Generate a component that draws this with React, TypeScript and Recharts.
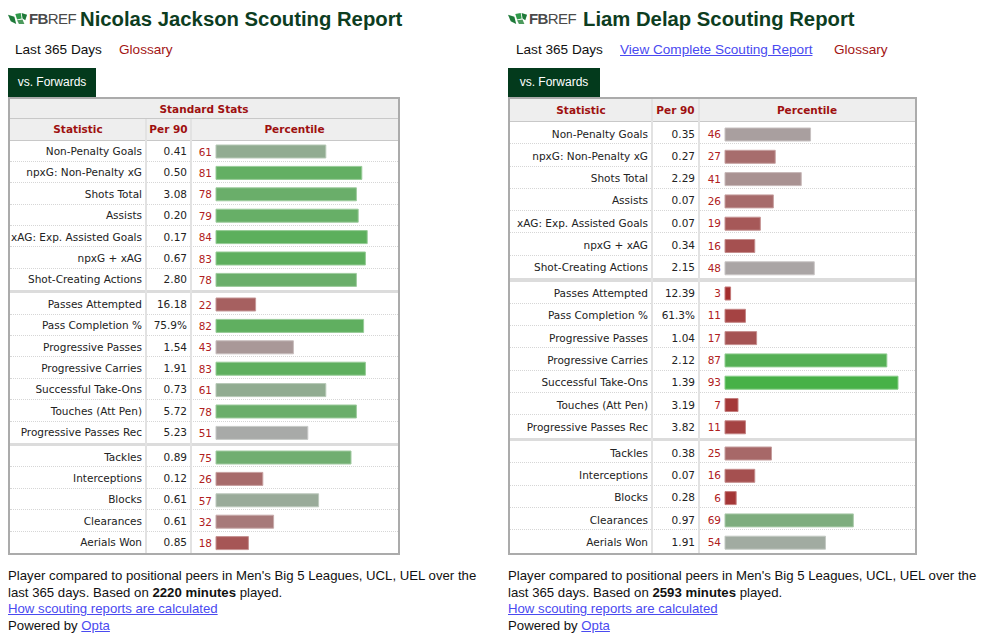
import { Bar, BarChart, Cell, XAxis, YAxis } from "recharts";

const statNames = [
  "Non-Penalty Goals", "npxG: Non-Penalty xG", "Shots Total", "Assists",
  "xAG: Exp. Assisted Goals", "npxG + xAG", "Shot-Creating Actions",
  "Passes Attempted", "Pass Completion %", "Progressive Passes", "Progressive Carries",
  "Successful Take-Ons", "Touches (Att Pen)", "Progressive Passes Rec",
  "Tackles", "Interceptions", "Blocks", "Clearances", "Aerials Won",
];
const groupSizes = [7, 7, 5];

const jacksonPer90 = ["0.41", "0.50", "3.08", "0.20", "0.17", "0.67", "2.80", "16.18", "75.9%", "1.54", "1.91", "0.73", "5.72", "5.23", "0.89", "0.12", "0.61", "0.61", "0.85"];
const jacksonPct = [61, 81, 78, 79, 84, 83, 78, 22, 82, 43, 83, 61, 78, 51, 75, 26, 57, 32, 18];

const delapPer90 = ["0.35", "0.27", "2.29", "0.07", "0.07", "0.34", "2.15", "12.39", "61.3%", "1.04", "2.12", "1.39", "3.19", "3.82", "0.38", "0.07", "0.28", "0.97", "1.91"];
const delapPct = [46, 27, 41, 26, 19, 16, 48, 3, 11, 17, 87, 93, 7, 11, 25, 16, 6, 69, 54];

const tableFont = "'DejaVu Sans', Verdana, sans-serif";
const pageFont = "'Liberation Sans', Arial, sans-serif";
const darkRed = "#9e1010";
const linkBlue = "#4a4af0";
const tableSize = 10.5;

// red -> gray -> green, the way fbref shades its percentile bars
function pctColor(p: number, mixWhite = 0): string {
  const red = [163, 38, 38], gray = [170, 170, 170], green = [55, 178, 55];
  const [a, b, t] = p < 50 ? [red, gray, p / 50] : [gray, green, (p - 50) / 50];
  const c = a.map((v, i) => {
    const base = v + (b[i] - v) * (t as number);
    return Math.round(base + (255 - base) * mixWhite);
  });
  return `rgb(${c.join(",")})`;
}

interface Layout {
  left: number; top: number;
  cols: [number, number, number];
  stdH: number; // "Standard Stats" strip, 0 when absent
  headH: number; rowH: number; sepH: number;
  barOffset: number; barRight: number;
}

function PctChart({ names, pcts, width, height, layout }: {
  names: string[]; pcts: number[]; width: number; height: number; layout: Layout;
}) {
  const data = names.map((name, i) => ({ name, pct: pcts[i] }));
  const lookup: Record<string, number> = {};
  data.forEach((d) => { lookup[d.name] = d.pct; });
  return (
    <BarChart layout="vertical" width={width} height={height} data={data}
      margin={{ top: 0, right: layout.barRight, bottom: 0, left: 0 }}>
      <XAxis type="number" domain={[0, 100]} hide />
      <YAxis type="category" dataKey="name" width={layout.barOffset} axisLine={false} tickLine={false}
        interval={0}
        tick={(p: any) => (
          <text x={layout.barOffset - 4} y={p.y} dy={4} textAnchor="end" fill="#b02020"
            fontSize={tableSize} fontFamily={tableFont}>{lookup[p.payload.value]}</text>
        )} />
      <Bar dataKey="pct" barSize={13} isAnimationActive={false}>
        {data.map((d, i) => (
          <Cell key={i} fill={pctColor(d.pct)} stroke={pctColor(d.pct, 0.35)} strokeWidth={1} />
        ))}
      </Bar>
    </BarChart>
  );
}

function ScoutTable({ layout, per90, pcts }: { layout: Layout; per90: string[]; pcts: number[] }) {
  const [c0, c1, c2] = layout.cols;
  const innerW = c0 + c1 + c2;
  const colTop = layout.stdH;
  const headTotal = layout.stdH + layout.headH;
  const groups: { start: number; top: number }[] = [];
  let y = headTotal;
  let start = 0;
  groupSizes.forEach((n, gi) => {
    groups.push({ start, top: y });
    y += n * layout.rowH + (gi < groupSizes.length - 1 ? layout.sepH : 0);
    start += n;
  });
  const totalH = y;
  const vline = (x: number, top: number, h: number) => (
    <div style={{ position: "absolute", left: x - 1, top, width: 2, height: h, background: "#e2e2e2" }} />
  );
  const headCell: React.CSSProperties = {
    position: "absolute", height: layout.headH, lineHeight: `${layout.headH}px`, textAlign: "center",
    fontWeight: "bold", color: darkRed, fontSize: tableSize,
  };
  return (
    <div style={{
      position: "absolute", left: layout.left, top: layout.top, width: innerW + 4, height: totalH + 4,
      border: "2px solid #ababab", boxSizing: "border-box", background: "#fff", fontFamily: tableFont,
    }}>
      {layout.stdH > 0 && (
        <div style={{ ...headCell, left: 0, top: 0, width: innerW, height: layout.stdH, lineHeight: `${layout.stdH}px`, background: "#eeeeee", borderBottom: "1px solid #c8c8c8", boxSizing: "border-box" }}>
          Standard Stats
        </div>
      )}
      <div style={{ position: "absolute", left: 0, top: colTop, width: innerW, height: layout.headH, background: "#eeeeee", borderBottom: "1px solid #c8c8c8", boxSizing: "border-box" }} />
      <div style={{ ...headCell, left: 0, top: colTop, width: c0 }}>Statistic</div>
      <div style={{ ...headCell, left: c0, top: colTop, width: c1 }}>Per 90</div>
      <div style={{ ...headCell, left: c0 + c1, top: colTop, width: c2 }}>Percentile</div>
      {groups.map((g, gi) => {
        const n = groupSizes[gi];
        const names = statNames.slice(g.start, g.start + n);
        return (
          <div key={gi}>
            {names.map((name, i) => (
              <div key={name} style={{
                position: "absolute", left: 0, top: g.top + i * layout.rowH, width: innerW, height: layout.rowH,
                borderBottom: i < n - 1 ? "1px dotted #d6d6d6" : "none", boxSizing: "border-box",
                fontSize: tableSize, color: "#222",
              }}>
                <div style={{ position: "absolute", left: 0, width: c0 - 4, top: 0.5, lineHeight: `${layout.rowH}px`, textAlign: "right", whiteSpace: "nowrap" }}>{name}</div>
                <div style={{ position: "absolute", left: c0, width: c1 - 4, top: 0.5, lineHeight: `${layout.rowH}px`, textAlign: "right" }}>{per90[g.start + i]}</div>
              </div>
            ))}
            <div style={{ position: "absolute", left: c0 + c1, top: g.top + 0.5 }}>
              <PctChart names={names} pcts={pcts.slice(g.start, g.start + n)} width={c2} height={n * layout.rowH} layout={layout} />
            </div>
            {gi < groupSizes.length - 1 && (
              <div style={{ position: "absolute", left: 0, top: g.top + n * layout.rowH, width: innerW, height: layout.sepH, background: "#dcdcdc" }} />
            )}
          </div>
        );
      })}
      {vline(c0, colTop, totalH - colTop)}
      {vline(c0 + c1, colTop, totalH - colTop)}
    </div>
  );
}

function Logo({ left, top }: { left: number; top: number }) {
  return (
    <div style={{ position: "absolute", left, top, height: 20, display: "flex", alignItems: "center" }}>
      <svg width={20} height={13} viewBox="0 0 22 14">
        <path d="M0 3 L7 5 L9 13 L3 10 Z" fill="#1f7a3a" />
        <path d="M8 2 L14 1 L15 7 L10 8 Z" fill="#2f9a4a" />
        <path d="M15 1 L21 3 L19 9 L16 7 Z" fill="#1f7a3a" />
        <path d="M10 9 L16 8 L18 13 L12 13 Z" fill="#4c9a5c" />
      </svg>
      <span style={{ fontFamily: pageFont, fontSize: 15, color: "#4a4a4a", letterSpacing: -0.6, marginLeft: 1 }}>
        <b>FB</b><span style={{ fontWeight: 300 }}>REF</span>
      </span>
    </div>
  );
}

function Tab({ left, width }: { left: number; width: number }) {
  return (
    <div style={{
      position: "absolute", left, top: 68, width, height: 29, background: "#033a1c", color: "#fff",
      fontFamily: pageFont, fontSize: 12, lineHeight: "29px", textAlign: "center",
    }}>vs. Forwards</div>
  );
}

const leftLayout: Layout = {
  left: 8, top: 97, cols: [136, 45, 207], stdH: 20,
  headH: 21.5, rowH: 21.4, sepH: 3, barOffset: 25, barRight: 2,
};
const rightLayout: Layout = {
  left: 508, top: 97, cols: [142, 47, 216], stdH: 0,
  headH: 23, rowH: 22.3, sepH: 3.5, barOffset: 26, barRight: 4,
};

function Footer({ left, minutes }: { left: number; minutes: number }) {
  return (
    <div style={{ position: "absolute", left, top: 568, fontFamily: pageFont, fontSize: 13.2, lineHeight: "16.5px", color: "#111", whiteSpace: "nowrap" }}>
      Player compared to positional peers in Men's Big 5 Leagues, UCL, UEL over the<br />
      last 365 days. Based on <b>{minutes} minutes</b> played.<br />
      <span style={{ color: linkBlue, textDecoration: "underline" }}>How scouting reports are calculated</span><br />
      Powered by <span style={{ color: linkBlue, textDecoration: "underline" }}>Opta</span>
    </div>
  );
}

export default function App() {
  const title: React.CSSProperties = {
    position: "absolute", top: 6, fontFamily: pageFont, fontWeight: "bold", fontSize: 20.3,
    color: "#0d3d1f", whiteSpace: "nowrap", lineHeight: "26px",
  };
  const sub: React.CSSProperties = { position: "absolute", top: 41, fontFamily: pageFont, fontSize: 13.6, lineHeight: "18px", whiteSpace: "nowrap" };
  return (
    <div style={{ position: "absolute", left: 0, top: 0, width: 1000, height: 641, background: "#fff", overflow: "hidden" }}>
      <Logo left={8} top={8} />
      <div style={{ ...title, left: 80 }}>Nicolas Jackson Scouting Report</div>
      <div style={{ ...sub, left: 15, color: "#111" }}>Last 365 Days</div>
      <div style={{ ...sub, left: 119, color: "#a31515" }}>Glossary</div>
      <Tab left={8} width={88} />
      <ScoutTable layout={leftLayout} per90={jacksonPer90} pcts={jacksonPct} />
      <Footer left={8} minutes={2220} />

      <Logo left={508} top={8} />
      <div style={{ ...title, left: 583 }}>Liam Delap Scouting Report</div>
      <div style={{ ...sub, left: 516, color: "#111" }}>Last 365 Days</div>
      <div style={{ ...sub, left: 620, color: linkBlue, textDecoration: "underline" }}>View Complete Scouting Report</div>
      <div style={{ ...sub, left: 834, color: "#a31515" }}>Glossary</div>
      <Tab left={508} width={92} />
      <ScoutTable layout={rightLayout} per90={delapPer90} pcts={delapPct} />
      <Footer left={508} minutes={2593} />
    </div>
  );
}
